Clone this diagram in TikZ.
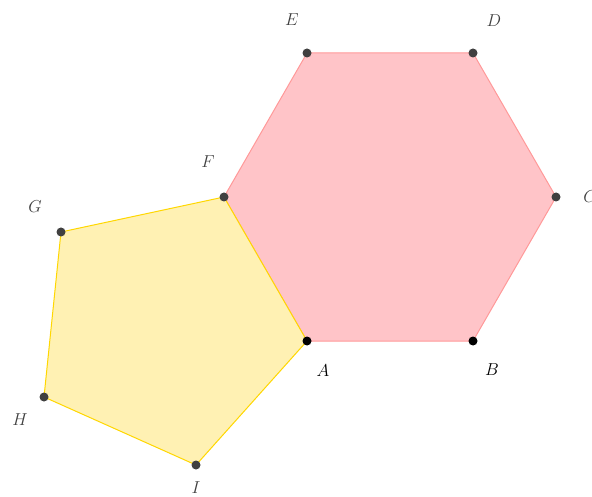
\documentclass[tikz,border=0pt]{standalone}
\usepackage{tikz}
\definecolor{hexfill}{RGB}{255,196,200}
\definecolor{hexedge}{RGB}{255,153,153}
\definecolor{penfill}{RGB}{255,241,179}
\definecolor{penedge}{RGB}{255,215,0}
\definecolor{dotgray}{RGB}{64,64,64}
\definecolor{labgray}{RGB}{64,64,64}
\begin{document}
\begin{tikzpicture}[x=1pt,y=-1pt,
  ptdot/.style={circle,fill=dotgray,inner sep=0pt,minimum size=9pt},
  ptdotb/.style={circle,fill=black,inner sep=0pt,minimum size=9pt},
  lab/.style={text=labgray,font=\fontsize{19}{22}\selectfont,inner sep=0pt},
  labb/.style={text=black,font=\fontsize{19}{22}\selectfont,inner sep=0pt}]
\useasboundingbox (0,0) rectangle (592,497);
\coordinate (A) at (307,341);
\coordinate (B) at (473,341);
\coordinate (C) at (556,197);
\coordinate (D) at (473,53);
\coordinate (E) at (307,53);
\coordinate (F) at (224,197);
\coordinate (G) at (61,232);
\coordinate (H) at (44,397);
\coordinate (I) at (196,465);
\fill[hexfill] (A) -- (B) -- (C) -- (D) -- (E) -- (F) -- cycle;
\draw[hexedge,line width=1pt] (A) -- (B) -- (C) -- (D) -- (E) -- (F) -- cycle;
\fill[penfill] (A) -- (F) -- (G) -- (H) -- (I) -- cycle;
\draw[penedge,line width=1pt] (A) -- (F) -- (G) -- (H) -- (I) -- cycle;
\node[ptdotb] (dA) at (A) {};
\node[ptdotb] (dB) at (B) {};
\node[ptdot] (dC) at (C) {};
\node[ptdot] (dD) at (D) {};
\node[ptdot] (dE) at (E) {};
\node[ptdot] (dF) at (F) {};
\node[ptdot] (dG) at (G) {};
\node[ptdot] (dH) at (H) {};
\node[ptdot] (dI) at (I) {};
\node[labb] (lA) at (323,371) {$A$};
\node[labb] (lB) at (492,370) {$B$};
\node[lab] (lC) at (590,197) {$C$};
\node[lab] (lD) at (494,21) {$D$};
\node[lab] (lE) at (292,20) {$E$};
\node[lab] (lF) at (208,162) {$F$};
\node[lab] (lG) at (35,207) {$G$};
\node[lab] (lH) at (20,420) {$H$};
\node[lab] (lI) at (196,488) {$I$};
\end{tikzpicture}
\end{document}
